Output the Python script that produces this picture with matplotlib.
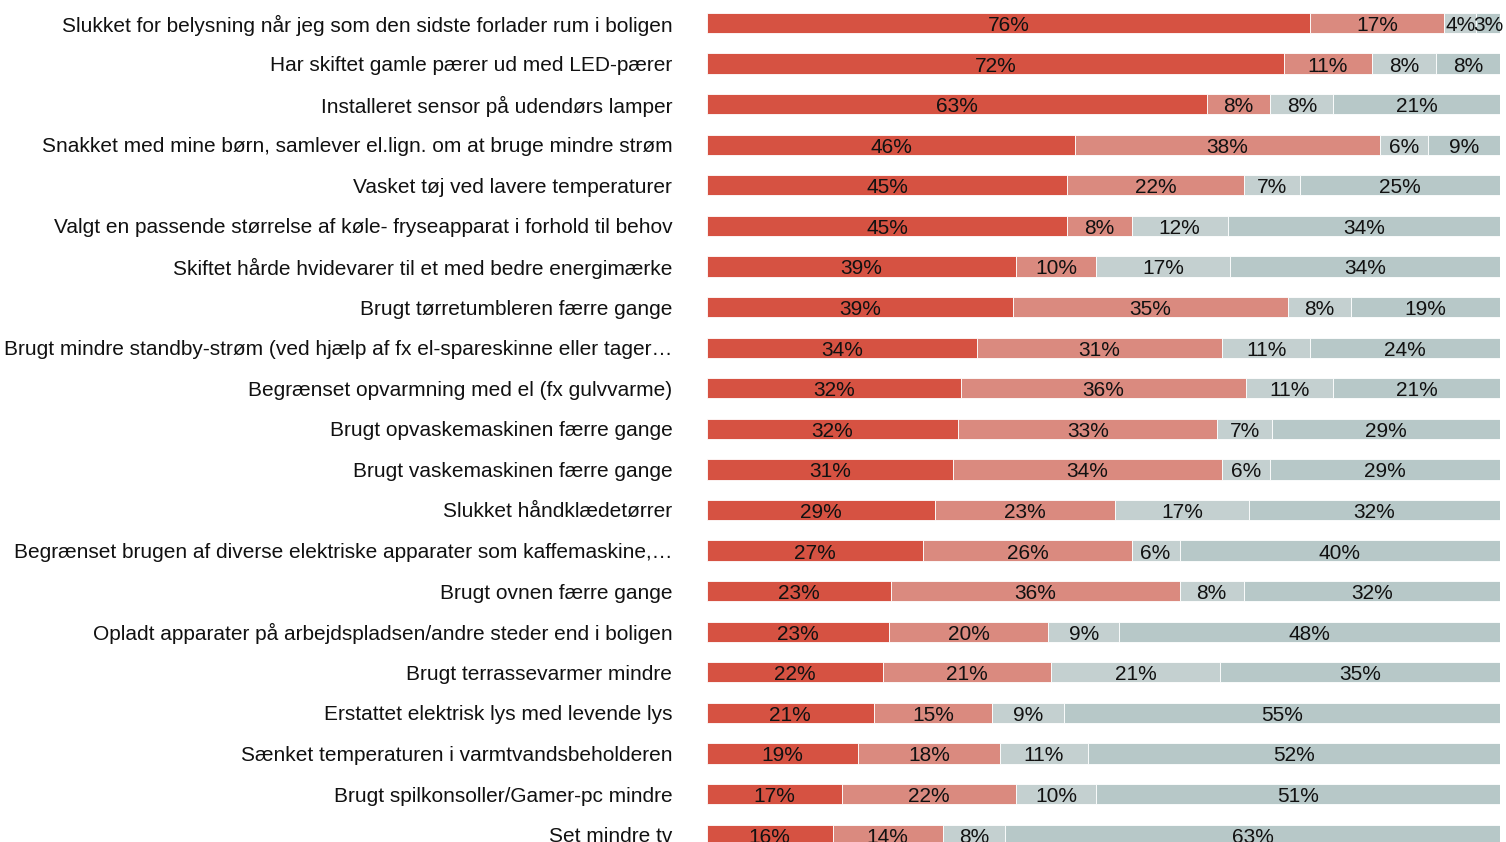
import matplotlib
matplotlib.use('Agg')
import matplotlib.pyplot as plt
import numpy as np

plt.rcParams['font.family'] = ['Liberation Sans', 'DejaVu Sans']

categories = [
    'Slukket for belysning når jeg som den sidste forlader rum i boligen',
    'Har skiftet gamle pærer ud med LED-pærer',
    'Installeret sensor på udendørs lamper',
    'Snakket med mine børn, samlever el.lign. om at bruge mindre strøm',
    'Vasket tøj ved lavere temperaturer',
    'Valgt en passende størrelse af køle- fryseapparat i forhold til behov',
    'Skiftet hårde hvidevarer til et med bedre energimærke',
    'Brugt tørretumbleren færre gange',
    'Brugt mindre standby-strøm (ved hjælp af fx el-spareskinne eller tager…',
    'Begrænset opvarmning med el (fx gulvvarme)',
    'Brugt opvaskemaskinen færre gange',
    'Brugt vaskemaskinen færre gange',
    'Slukket håndklædetørrer',
    'Begrænset brugen af diverse elektriske apparater som kaffemaskine,…',
    'Brugt ovnen færre gange',
    'Opladt apparater på arbejdspladsen/andre steder end i boligen',
    'Brugt terrassevarmer mindre',
    'Erstattet elektrisk lys med levende lys',
    'Sænket temperaturen i varmtvandsbeholderen',
    'Brugt spilkonsoller/Gamer-pc mindre',
    'Set mindre tv',
]

series_1 = [76, 72, 63, 46, 45, 45, 39, 39, 34, 32, 32, 31, 29, 27, 23, 23, 22, 21, 19, 17, 16]
series_2 = [17, 11, 8, 38, 22, 8, 10, 35, 31, 36, 33, 34, 23, 26, 36, 20, 21, 15, 18, 22, 14]
series_3 = [4, 8, 8, 6, 7, 12, 17, 8, 11, 11, 7, 6, 17, 6, 8, 9, 21, 9, 11, 10, 8]
series_4 = [3, 8, 21, 9, 25, 34, 34, 19, 24, 21, 29, 29, 32, 40, 32, 48, 35, 55, 52, 51, 63]

colors = ['#D65242', '#DA8A7F', '#C4D0D0', '#B7C8C8']

data = np.array([series_1, series_2, series_3, series_4], dtype=float)
shares = data / data.sum(axis=0) * 100

fig = plt.figure(figsize=(15.06, 8.42), dpi=100)
ax = fig.add_axes([707 / 1506, -0.0154, 793 / 1506, 1.0122])

y = np.arange(len(categories))
left = np.zeros(len(categories))
for i in range(4):
    ax.barh(y, shares[i], left=left, height=0.5, color=colors[i],
            edgecolor='white', linewidth=0.6)
    for j in range(len(categories)):
        ax.text(left[j] + shares[i][j] / 2, y[j] + 0.06, f'{int(data[i][j])}%',
                ha='center', va='center', fontsize=15, color='#111111')
    left += shares[i]

ax.set_xlim(0, 100)
ax.set_ylim(len(categories) - 0.5, -0.5)
ax.set_yticks(y)
ax.set_yticklabels(categories, fontsize=15, color='#111111')
ax.tick_params(axis='y', length=0, pad=25)
ax.set_xticks([])
for s in ax.spines.values():
    s.set_visible(False)

fig.savefig('out.png', dpi=100)
